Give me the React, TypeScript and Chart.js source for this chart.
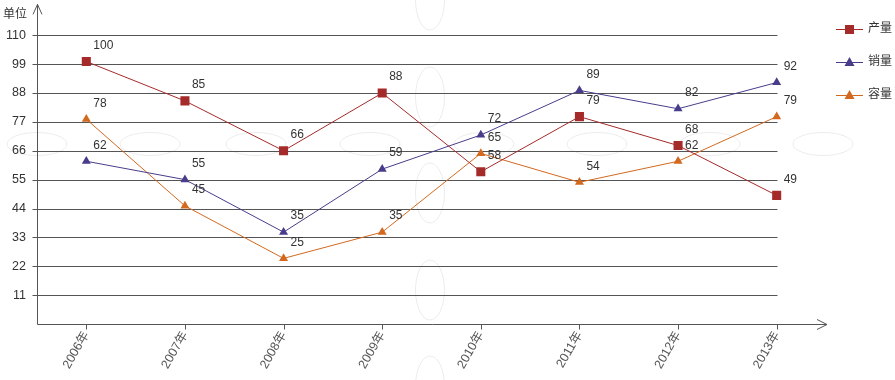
import React, { useEffect, useRef } from "react";
import { Chart, registerables } from "chart.js";

Chart.register(...registerables);

const categories = ["2006年", "2007年", "2008年", "2009年", "2010年", "2011年", "2012年", "2013年"];
const seriesNames = ["产量", "销量", "容量"];
const production = [100, 85, 66, 88, 58, 79, 68, 49];
const sales = [62, 55, 35, 59, 72, 89, 82, 92];
const capacity = [78, 45, 25, 35, 65, 54, 62, 79];
const yTicks = [11, 22, 33, 44, 55, 66, 77, 88, 99, 110];
const yUnit = "单位";

const colors = ["#A52A2A", "#483D8B", "#D2691E"];
const FONT = "'Liberation Sans', Arial, 'Noto Sans CJK SC', sans-serif";
const AXIS = "#555";

const decorPlugin = {
  id: "decor",
  beforeDraw(chart: any) {
    const ctx = chart.ctx;
    ctx.save();
    ctx.strokeStyle = "#ececec";
    ctx.lineWidth = 1;
    // faint watermark ellipses
    const hx = [37, 150, 256, 370, 484, 597, 710, 823];
    hx.forEach((x) => {
      ctx.beginPath();
      ctx.ellipse(x, 144, 30, 11.5, 0, 0, Math.PI * 2);
      ctx.stroke();
    });
    const vy = [0, 97, 193, 290, 386];
    vy.forEach((y) => {
      ctx.beginPath();
      ctx.ellipse(430, y, 14.5, 30, 0, 0, Math.PI * 2);
      ctx.stroke();
    });
    ctx.restore();
  },
  beforeDatasetsDraw(chart: any) {
    const ctx = chart.ctx;
    const ys = chart.scales.y;
    const xs = chart.scales.x;
    const area = chart.chartArea;
    const left = Math.round(area.left) + 0.5;
    const bottom = Math.round(ys.getPixelForValue(0)) + 0.5;
    const lastX = Math.round(xs.getPixelForValue(categories.length - 1)) + 0.5;
    ctx.save();
    ctx.strokeStyle = AXIS;
    ctx.lineWidth = 1;
    // grid lines
    yTicks.forEach((v) => {
      const y = Math.round(ys.getPixelForValue(v)) + 0.5;
      ctx.beginPath();
      ctx.moveTo(left - 5, y);
      ctx.lineTo(lastX, y);
      ctx.stroke();
    });
    // y axis with arrow
    ctx.beginPath();
    ctx.moveTo(left, bottom);
    ctx.lineTo(left, area.top - 2);
    ctx.moveTo(left - 4.5, area.top + 8);
    ctx.lineTo(left, area.top - 2);
    ctx.lineTo(left + 4.5, area.top + 8);
    ctx.stroke();
    // x axis with arrow
    const xEnd = area.right + 1;
    ctx.beginPath();
    ctx.moveTo(left, bottom);
    ctx.lineTo(xEnd, bottom);
    ctx.moveTo(xEnd - 10, bottom - 5);
    ctx.lineTo(xEnd, bottom);
    ctx.lineTo(xEnd - 10, bottom + 5);
    ctx.stroke();
    // x tick marks
    categories.forEach((_, i) => {
      const x = Math.round(xs.getPixelForValue(i)) + 0.5;
      ctx.beginPath();
      ctx.moveTo(x, bottom);
      ctx.lineTo(x, bottom + 5);
      ctx.stroke();
    });
    // unit label
    ctx.fillStyle = "#333";
    ctx.font = `12px ${FONT}`;
    ctx.textAlign = "left";
    ctx.textBaseline = "middle";
    ctx.fillText(yUnit, 3, 15);
    ctx.restore();
  },
  afterDatasetsDraw(chart: any) {
    const ctx = chart.ctx;
    ctx.save();
    ctx.fillStyle = "#333";
    ctx.font = `12px ${FONT}`;
    ctx.textAlign = "left";
    ctx.textBaseline = "middle";
    chart.data.datasets.forEach((ds: any, di: number) => {
      const meta = chart.getDatasetMeta(di);
      meta.data.forEach((pt: any, i: number) => {
        ctx.fillText(String(ds.data[i]), pt.x + 7, pt.y - 16);
      });
    });
    // legend
    const lx = 836;
    const legendY = [29, 62, 95];
    chart.data.datasets.forEach((ds: any, di: number) => {
      const y = legendY[di];
      ctx.strokeStyle = colors[di];
      ctx.lineWidth = 1;
      ctx.beginPath();
      ctx.moveTo(lx, y + 0.5);
      ctx.lineTo(lx + 27, y + 0.5);
      ctx.stroke();
      ctx.fillStyle = colors[di];
      if (di === 0) {
        ctx.fillRect(lx + 9, y - 4, 9, 9);
      } else {
        ctx.beginPath();
        ctx.moveTo(lx + 13.5, y - 5);
        ctx.lineTo(lx + 18.5, y + 4);
        ctx.lineTo(lx + 8.5, y + 4);
        ctx.closePath();
        ctx.fill();
      }
      ctx.fillStyle = "#333";
      ctx.font = `12px ${FONT}`;
      ctx.fillText(seriesNames[di], 868, y);
    });
    ctx.restore();
  },
};

export default function App() {
  const ref = useRef<HTMLCanvasElement | null>(null);
  useEffect(() => {
    document.body.style.margin = "0";
    const canvas = ref.current!;
    const mk = (label: string, data: number[], i: number, style: string, r: number) => ({
      label,
      data,
      borderColor: colors[i],
      backgroundColor: colors[i],
      pointBackgroundColor: colors[i],
      pointBorderColor: colors[i],
      pointBorderWidth: 0,
      borderWidth: 1,
      pointStyle: style,
      pointRadius: r,
      tension: 0,
      fill: false,
    });
    const chart = new Chart(canvas, {
      type: "line",
      data: {
        labels: categories,
        datasets: [
          mk(seriesNames[0], production, 0, "rect", 6.4),
          mk(seriesNames[1], sales, 1, "triangle", 5.2),
          mk(seriesNames[2], capacity, 2, "triangle", 5.2),
        ],
      },
      options: {
        responsive: false,
        animation: false,
        devicePixelRatio: 1,
        layout: { padding: { left: 0, right: 69, top: 0, bottom: 0 } },
        plugins: { legend: { display: false }, tooltip: { enabled: false } },
        scales: {
          x: {
            offset: true,
            grid: { display: false, drawTicks: false },
            border: { display: false },
            ticks: {
              color: AXIS,
              font: { size: 12.5, family: FONT },
              minRotation: 60,
              maxRotation: 60,
              padding: 5,
            },
            afterFit: (s: any) => {
              s.height = 56;
            },
          },
          y: {
            min: 0,
            max: 121,
            grid: { display: false, drawTicks: false },
            border: { display: false },
            ticks: {
              stepSize: 11,
              color: "#333",
              font: { size: 12.5, family: FONT },
              padding: 11,
              callback: (v: any) => (yTicks.includes(Number(v)) ? String(v) : ""),
            },
            afterFit: (s: any) => {
              s.width = 37;
              s.paddingTop = 6;
              s.paddingBottom = 0;
            },
          },
        },
      },
      plugins: [decorPlugin],
    });
    return () => chart.destroy();
  }, []);
  return (
    <div style={{ width: 895, height: 380 }}>
      <canvas ref={ref} width={895} height={380} />
    </div>
  );
}
